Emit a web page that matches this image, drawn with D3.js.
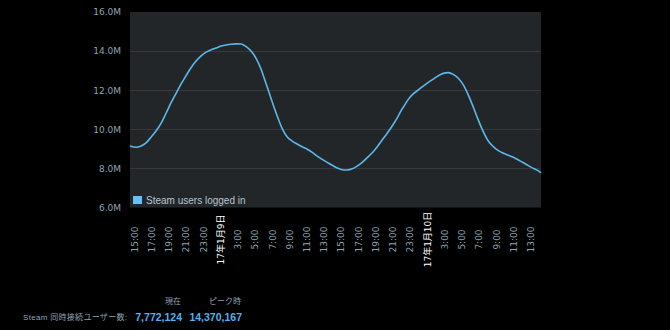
<!DOCTYPE html>
<html>
<head>
<meta charset="utf-8">
<script src="https://cdn.jsdelivr.net/npm/d3@7"></script>
<style>
  html, body { margin: 0; padding: 0; background: #000; }
  svg { display: block; }
</style>
</head>
<body>
<svg id="chart" width="670" height="330"></svg>
<script>
// Concurrent Steam users, in millions, sampled across two days
const sampleTimes = [
  "2017-01-08 14:32", "2017-01-08 15:14", "2017-01-08 15:49", "2017-01-08 16:24", "2017-01-08 16:58",
  "2017-01-08 17:33", "2017-01-08 18:08", "2017-01-08 18:43", "2017-01-08 19:18", "2017-01-08 19:53",
  "2017-01-08 20:28", "2017-01-08 21:02", "2017-01-08 21:37", "2017-01-08 22:12", "2017-01-08 22:47",
  "2017-01-08 23:22", "2017-01-08 23:57", "2017-01-09 00:32", "2017-01-09 01:06", "2017-01-09 01:41",
  "2017-01-09 02:16", "2017-01-09 02:51", "2017-01-09 03:26", "2017-01-09 04:01", "2017-01-09 04:35",
  "2017-01-09 05:10", "2017-01-09 05:45", "2017-01-09 06:15", "2017-01-09 06:27", "2017-01-09 07:02",
  "2017-01-09 07:37", "2017-01-09 08:11", "2017-01-09 08:46", "2017-01-09 09:21", "2017-01-09 09:56",
  "2017-01-09 10:31", "2017-01-09 11:06", "2017-01-09 11:41", "2017-01-09 12:15", "2017-01-09 12:50",
  "2017-01-09 13:25", "2017-01-09 14:00", "2017-01-09 14:35", "2017-01-09 15:10", "2017-01-09 15:45",
  "2017-01-09 16:19", "2017-01-09 16:54", "2017-01-09 17:29", "2017-01-09 18:04", "2017-01-09 18:39",
  "2017-01-09 19:14", "2017-01-09 19:48", "2017-01-09 20:23", "2017-01-09 20:58", "2017-01-09 21:33",
  "2017-01-09 22:03", "2017-01-09 22:15", "2017-01-09 22:50", "2017-01-09 23:24", "2017-01-09 23:59",
  "2017-01-10 00:34", "2017-01-10 01:09", "2017-01-10 01:44", "2017-01-10 02:19", "2017-01-10 02:53",
  "2017-01-10 03:28", "2017-01-10 04:03", "2017-01-10 04:38", "2017-01-10 05:13", "2017-01-10 05:48",
  "2017-01-10 06:23", "2017-01-10 06:57", "2017-01-10 07:32", "2017-01-10 08:07", "2017-01-10 08:42",
  "2017-01-10 09:17", "2017-01-10 09:52", "2017-01-10 10:26", "2017-01-10 11:01", "2017-01-10 11:36",
  "2017-01-10 12:11", "2017-01-10 12:46", "2017-01-10 13:21", "2017-01-10 13:56", "2017-01-10 14:14"
];
const usersLoggedIn = [
  9.15, 9.08, 9.15, 9.31, 9.59,
  9.91, 10.30, 10.82, 11.36, 11.84,
  12.32, 12.74, 13.15, 13.49, 13.76,
  13.95, 14.07, 14.16, 14.26, 14.31,
  14.35, 14.370167, 14.36, 14.23, 14.00,
  13.63, 13.07, 12.43, 12.18, 11.41,
  10.68, 10.05, 9.62, 9.40, 9.25,
  9.11, 8.98, 8.82, 8.63, 8.46,
  8.31, 8.16, 8.02, 7.93, 7.92,
  7.98, 8.12, 8.31, 8.55, 8.80,
  9.11, 9.45, 9.80, 10.17, 10.58,
  10.99, 11.13, 11.53, 11.81, 12.01,
  12.21, 12.40, 12.57, 12.74, 12.86,
  12.90, 12.81, 12.61, 12.27, 11.75,
  11.13, 10.48, 9.88, 9.40, 9.11,
  8.91, 8.77, 8.67, 8.57, 8.43,
  8.29, 8.14, 8.00, 7.87, 7.772124
];

const yTicks = [6, 8, 10, 12, 14, 16];
const xTickStart = "2017-01-08 15:00";
const xTickLabels = [
  "15:00", "17:00", "19:00", "21:00", "23:00", "17年1月9日", "3:00", "5:00", "7:00", "9:00", "11:00", "13:00",
  "15:00", "17:00", "19:00", "21:00", "23:00", "17年1月10日", "3:00", "5:00", "7:00", "9:00", "11:00", "13:00"
];
const dateLabels = ["17年1月9日", "17年1月10日"];

const seriesName = "Steam users logged in";
const summaryLabel = "Steam 同時接続ユーザー数:";
const summaryHeaders = ["現在", "ピーク時"];
const summaryValues = [7772124, 14370167];

const parse = d3.timeParse("%Y-%m-%d %H:%M");
const points = sampleTimes.map((t, i) => ({ t: parse(t), v: usersLoggedIn[i] }));
const tickStart = parse(xTickStart);
const tickTimes = xTickLabels.map((_, i) => d3.timeHour.offset(tickStart, i * 2));

const svg = d3.select("#chart");
const plot = { left: 130, right: 541, top: 12, bottom: 207.5 };

const x = d3.scaleTime()
  .domain(d3.extent(points, d => d.t))
  .range([plot.left, plot.right]);
const y = d3.scaleLinear()
  .domain([6, 16])
  .range([plot.bottom, plot.top]);

// plot background
svg.append("rect")
  .attr("x", plot.left).attr("y", plot.top)
  .attr("width", plot.right - plot.left).attr("height", plot.bottom - plot.top)
  .attr("fill", "#232629");

// horizontal grid
svg.append("g")
  .selectAll("line")
  .data(yTicks.filter(v => v > 6 && v < 16))
  .join("line")
  .attr("x1", plot.left).attr("x2", plot.right)
  .attr("y1", d => Math.round(y(d)) + 0.5).attr("y2", d => Math.round(y(d)) + 0.5)
  .attr("stroke", "#3a3839").attr("stroke-width", 1);

// y axis labels
const yAxis = svg.append("g")
  .attr("transform", `translate(${plot.left - 9},0)`)
  .call(d3.axisLeft(y).tickValues(yTicks).tickFormat(d => d3.format(".1f")(d) + "M").tickSize(0).tickPadding(0));
yAxis.select(".domain").remove();
yAxis.selectAll("text")
  .attr("fill", "#8fa3b5")
  .style("font-family", "'DejaVu Sans', Verdana, sans-serif")
  .style("font-size", "9px");

// x axis labels, rotated
const xAxis = svg.append("g")
  .attr("transform", `translate(0,${plot.bottom})`)
  .call(d3.axisBottom(x).tickValues(tickTimes).tickFormat((d, i) => xTickLabels[i]).tickSize(0));
xAxis.select(".domain").remove();
xAxis.selectAll("text")
  .attr("transform", "translate(0,32) rotate(-90)")
  .attr("x", 0).attr("y", 0).attr("dy", "0.35em")
  .attr("text-anchor", "middle")
  .attr("fill", (d, i) => dateLabels.includes(xTickLabels[i]) ? "#ffffff" : "#8fa3b5")
  .style("font-family", "'DejaVu Sans', Verdana, 'Noto Sans CJK JP', sans-serif")
  .style("font-size", "9px");

// series line
const line = d3.line()
  .x(d => x(d.t))
  .y(d => y(d.v))
  .curve(d3.curveMonotoneX);
svg.append("path")
  .datum(points)
  .attr("d", line)
  .attr("fill", "none")
  .attr("stroke", "#5ab8ec")
  .attr("stroke-width", 1.6);

// legend
const legend = svg.append("g").attr("transform", "translate(132,195)");
legend.append("rect")
  .attr("x", 0.5).attr("y", 0.5).attr("width", 10).attr("height", 9)
  .attr("fill", "#67c1f5").attr("stroke", "#1b2838").attr("stroke-width", 1);
legend.append("text")
  .attr("x", 14).attr("y", 9)
  .attr("fill", "#b8c4cf")
  .style("font-family", "'Liberation Sans', Arial, sans-serif")
  .style("font-size", "10px")
  .text(seriesName);

// summary under the chart
const fmt = d3.format(",");
const summary = svg.append("g")
  .style("font-family", "'Liberation Sans', Arial, 'Noto Sans CJK JP', sans-serif");
const colRight = [182, 242];
summary.selectAll(".hdr")
  .data(summaryHeaders)
  .join("text")
  .attr("class", "hdr")
  .attr("x", (d, i) => colRight[i] - 1).attr("y", 304)
  .attr("text-anchor", "end")
  .attr("fill", "#8fa3b5")
  .style("font-size", "8px")
  .text(d => d);
summary.append("text")
  .attr("x", 23).attr("y", 320)
  .attr("fill", "#8fa3b5")
  .style("font-size", "8px")
  .attr("textLength", 104)
  .attr("lengthAdjust", "spacing")
  .text(summaryLabel);
summary.selectAll(".val")
  .data(summaryValues)
  .join("text")
  .attr("class", "val")
  .attr("x", (d, i) => colRight[i]).attr("y", 320.5)
  .attr("text-anchor", "end")
  .attr("fill", "#4fb3ee")
  .style("font-size", "10.5px")
  .style("font-weight", "bold")
  .text(d => fmt(d));
</script>
</body>
</html>
